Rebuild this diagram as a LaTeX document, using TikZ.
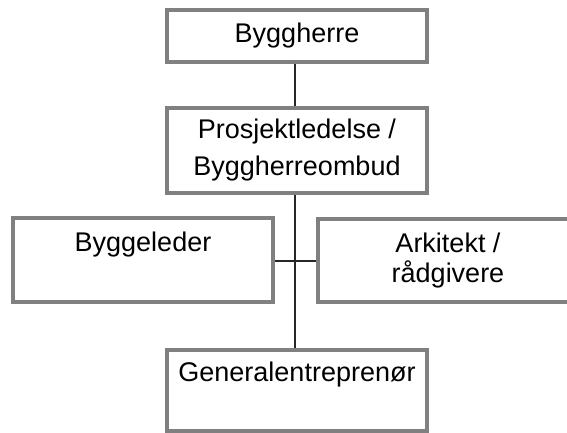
\documentclass[tikz,border=0pt]{standalone}
\usepackage{fontspec}
\setmainfont{Liberation Sans}
\usetikzlibrary{positioning}
\tikzset{
    box/.style={rectangle, draw=gray, line width=1.6pt, minimum width=130pt, inner sep=0pt, align=center, font=\fontsize{13.5}{18.5}\selectfont},
    link/.style={draw=black!85, line width=0.8pt},
    lbl/.style={font=\fontsize{13.5}{15}\selectfont, align=center, inner sep=0pt}
}

\begin{document}
\begin{tikzpicture}[x=0.5pt, y=-0.5pt]
    \clip (0,0) rectangle (567,433);
    % Boxes
    \node[box, minimum height=26pt] (BH) at (297,36) {Byggherre};
    \node[box, minimum height=42.5pt] (PL) at (297,150.5) {Prosjektledelse /\\Byggherreombud};
    \node[box, minimum height=42pt] (BL) at (143,260) {};
    \node[box, minimum height=41.5pt, font=\fontsize{13.5}{15}\selectfont] (AR) at (448,260.5) {Arkitekt /\\rådgivere};
    \node[box, minimum height=40.5pt] (GE) at (297,390.5) {};

    % Texts at the top of the lower boxes
    \node[lbl, anchor=base] (BLtxt) at ([yshift=-17.5pt]BL.north) {Byggeleder};
    \node[lbl, anchor=base] (GEtxt) at ([yshift=-16.5pt]GE.north) {Generalentreprenør};

    % Lines
    \coordinate (J) at (295,261);
    \draw[link] (BH.south -| J) -- (PL.north -| J);
    \draw[link] (PL.south -| J) -- (GE.north -| J);
    \draw[link] (BL.east |- J) -- (AR.west |- J);
\end{tikzpicture}
\end{document}
